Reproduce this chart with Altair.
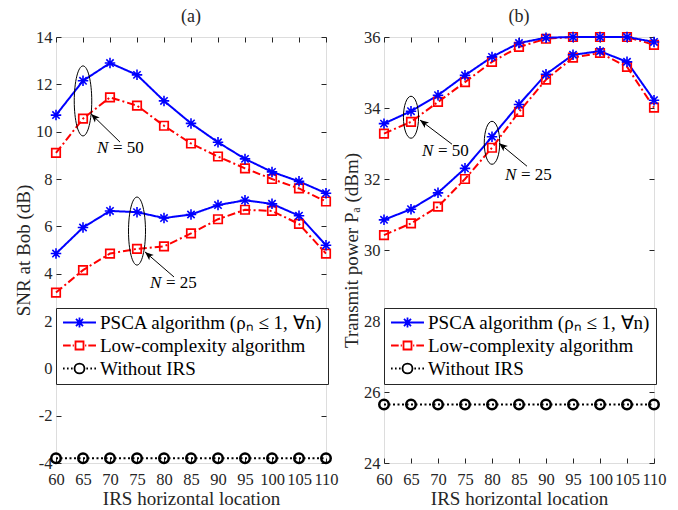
import altair as alt
import pandas as pd

# ---------------- data ----------------
x_vals = [60, 65, 70, 75, 80, 85, 90, 95, 100, 105, 110]

snr_psca_50 = [10.7, 12.15, 12.9, 12.4, 11.3, 10.35, 9.55, 8.85, 8.3, 7.9, 7.4]
snr_low_50 = [9.1, 10.55, 11.45, 11.1, 10.25, 9.5, 8.95, 8.45, 8.0, 7.6, 7.05]
snr_psca_25 = [4.85, 5.95, 6.65, 6.6, 6.35, 6.5, 6.9, 7.1, 6.95, 6.45, 5.2]
snr_low_25 = [3.2, 4.15, 4.85, 5.05, 5.15, 5.7, 6.3, 6.7, 6.65, 6.1, 4.85]
snr_no_irs = [-3.8, -3.8, -3.8, -3.8, -3.8, -3.8, -3.8, -3.8, -3.8, -3.8, -3.8]

pow_psca_50 = [33.56, 33.91, 34.36, 34.92, 35.44, 35.83, 35.98, 36.0, 36.0, 36.0, 35.86]
pow_low_50 = [33.28, 33.61, 34.17, 34.73, 35.3, 35.72, 35.95, 36.0, 36.0, 36.0, 35.78]
pow_psca_25 = [30.85, 31.15, 31.61, 32.3, 33.19, 34.1, 34.95, 35.5, 35.6, 35.3, 34.22]
pow_low_25 = [30.42, 30.75, 31.22, 32.0, 32.88, 33.89, 34.8, 35.42, 35.55, 35.16, 34.01]
pow_no_irs = [25.65, 25.65, 25.65, 25.65, 25.65, 25.65, 25.65, 25.65, 25.65, 25.65, 25.65]

snr_ticks = [-4, -2, 0, 2, 4, 6, 8, 10, 12, 14]
pow_ticks = [24, 26, 28, 30, 32, 34, 36]

S_PSCA = "PSCA algorithm (\u03c1\u2099 \u2264 1, \u2200n)"
S_LOW = "Low-complexity algorithm"
S_NO = "Without IRS"
series_names = [S_PSCA, S_LOW, S_NO]

# annotation values (data coordinates)
ann_a_ell = {"x": [65, 75], "y": [11.3, 5.8], "sz": [4900, 4624]}
ann_a_arrow = {"x": [71.85, 81.85], "y": [9.56, 3.86], "x2": [66.5, 76.48], "y2": [10.75, 4.92], "ang": [314, 311]}
ann_a_text = {"x": [67.59, 77.41], "y": [9.31, 3.61], "t": ["= 50", "= 25"]}

ann_b_ell = {"x": [65, 80], "y": [33.74, 33.02], "sz": [1764, 1849]}
ann_b_arrow = {"x": [72.59, 86.48], "y": [32.98, 32.36], "x2": [66.67, 81.3], "y2": [33.66, 33.01], "ang": [307, 309]}
ann_b_text = {"x": [67.04, 82.41], "y": [32.78, 32.10], "t": ["= 50", "= 25"]}

# ---------------- styles ----------------
FONT = "Liberation Serif"
AX = "#262626"
TICK_FS = 16.5
LAB_FS = 19
ASTER = "M-1,0L1,0M0,-1L0,1M-0.7,-0.7L0.7,0.7M-0.7,0.7L0.7,-0.7"
ARROW = "M0,0L-0.4,1L0,0.75L0.4,1Z"

styles = {
    S_PSCA: dict(color="#0000FF", dash=[1, 0], shape=ASTER, size=110, sw=1.6),
    S_LOW: dict(color="#FF0000", dash=[8, 3, 2, 3], shape="square", size=72, sw=1.7),
    S_NO: dict(color="#000000", dash=[2, 2.5], shape="circle", size=90, sw=2.5),
}

# legend symbols: line sample + marker, nominal box 16px (8px per unit)
leg_paths = [
    "M-2.06,0L2.06,0M-0.62,0L0.62,0M0,-0.62L0,0.62M-0.44,-0.44L0.44,0.44M-0.44,0.44L0.44,-0.44",
    "M-2.06,0L-1.1,0M-0.85,0L-0.7,0M0.7,0L0.85,0M1.1,0L2.06,0"
    "M-0.5,-0.5L0.5,-0.5L0.5,0.5L-0.5,0.5Z",
    "M-2.06,0L-1.86,0M-1.56,0L-1.36,0M-1.06,0L-0.86,0M0.86,0L1.06,0M1.36,0L1.56,0M1.86,0L2.06,0"
    "M-0.62,0A0.62,0.62 0 1,1 0.62,0A0.62,0.62 0 1,1 -0.62,0",
]
leg_colors = ["#0000FF", "#FF0000", "#000000"]


def make_df(psca50, low50, psca25, low25, noirs):
    rows = []
    for s, n, vals in [(S_PSCA, 50, psca50), (S_LOW, 50, low50), (S_PSCA, 25, psca25),
                       (S_LOW, 25, low25), (S_NO, 0, noirs)]:
        for xv, yv in zip(x_vals, vals):
            rows.append({"x": xv, "y": yv, "series": s, "N": n})
    return pd.DataFrame(rows)


def panel(df, ydom, yticks, ytitle, title, ell, arrows, texts, ell_ratio):
    xs = alt.Scale(domain=[60, 110], nice=False, zero=False)
    ys = alt.Scale(domain=ydom, nice=False, zero=False)
    xaxis = alt.Axis(
        values=x_vals, title="IRS horizontal location", offset=-5, tickSize=5, domain=False,
        grid=False, labelPadding=8, titlePadding=2, labelOverlap=False, labelFlush=False,
        labelFont=FONT, labelFontSize=TICK_FS, titleFont=FONT, titleFontSize=LAB_FS,
        titleFontWeight="normal", labelColor=AX, titleColor=AX, tickColor=AX)
    yaxis = alt.Axis(
        values=yticks, title=ytitle, offset=-5, tickSize=5, domain=False, grid=False,
        labelPadding=4, titlePadding=2, labelOverlap=False, labelFlush=False,
        labelExpr="'' + datum.value",
        labelFont=FONT, labelFontSize=TICK_FS, titleFont=FONT, titleFontSize=LAB_FS,
        titleFontWeight="normal", labelColor=AX, titleColor=AX, tickColor=AX)
    xe = alt.X("x:Q", scale=xs, axis=xaxis)
    ye = alt.Y("y:Q", scale=ys, axis=yaxis)

    layers = []
    for s in [S_NO, S_LOW, S_PSCA]:
        st = styles[s]
        d = df[df.series == s]
        base = alt.Chart(d).encode(x=xe, y=ye)
        layers.append(base.mark_line(color=st["color"], strokeDash=st["dash"], strokeWidth=2)
                      .encode(detail="N:N"))
    for s in [S_NO, S_LOW, S_PSCA]:
        st = styles[s]
        d = df[df.series == s]
        base = alt.Chart(d).encode(x=xe, y=ye)
        layers.append(base.mark_point(shape=st["shape"], color=st["color"], filled=False,
                                      size=st["size"], strokeWidth=st["sw"], opacity=1))

    leg = alt.Legend(orient="none", legendX=0, legendY=271, title=None, fillColor="white",
                     strokeColor=AX, padding=5, labelFont=FONT, labelFontSize=LAB_FS,
                     labelColor="black", symbolSize=256, symbolStrokeWidth=1.8, rowPadding=3,
                     labelOffset=11, symbolOffset=9, labelLimit=400)
    legend_layer = alt.Chart(df).transform_filter("false").mark_point(filled=False, opacity=1).encode(
        x=xe, y=ye,
        color=alt.Color("series:N", scale=alt.Scale(domain=series_names, range=leg_colors), legend=leg),
        shape=alt.Shape("series:N", scale=alt.Scale(domain=series_names, range=leg_paths), legend=leg),
    )
    layers.append(legend_layer)

    r = ell_ratio
    ell_path = f"M0,-1A{r},1 0 1,1 0,1A{r},1 0 1,1 0,-1"
    layers.append(alt.Chart(pd.DataFrame(ell)).mark_point(shape=ell_path, filled=False, color="black",
                                                          strokeWidth=1, opacity=1)
                  .encode(x=xe, y=ye, size=alt.Size("sz:Q", scale=None)))
    adf = pd.DataFrame(arrows)
    layers.append(alt.Chart(adf).mark_rule(color="black", strokeWidth=1)
                  .encode(x=xe, y=ye, x2="x2:Q", y2="y2:Q"))
    layers.append(alt.Chart(adf).mark_point(shape=ARROW, filled=True, color="black", size=300, opacity=1)
                  .encode(x=alt.X("x2:Q", scale=xs, axis=xaxis),
                          y=alt.Y("y2:Q", scale=ys, axis=yaxis),
                          angle=alt.Angle("ang:Q", scale=None)))
    tdf = pd.DataFrame(texts)
    layers.append(alt.Chart(tdf).mark_text(text="N", font=FONT, fontStyle="italic", fontSize=17,
                                           align="left", baseline="middle", color="black")
                  .encode(x=xe, y=ye))
    layers.append(alt.Chart(tdf).mark_text(font=FONT, fontSize=17, align="left", baseline="middle",
                                           color="black", dx=16)
                  .encode(x=xe, y=ye, text="t:N"))

    inner = alt.layer(*layers)

    frame = alt.Chart(df).mark_point(opacity=0).encode(
        x=alt.X("x:Q", scale=xs, axis=alt.Axis(orient="top", values=x_vals, labels=False, title=None,
                                               tickSize=5, offset=-5, domain=False, grid=False,
                                               tickColor=AX)),
        y=alt.Y("y:Q", scale=ys, axis=alt.Axis(orient="right", values=yticks, labels=False, title=None,
                                               tickSize=5, offset=-5, domain=False, grid=False,
                                               tickColor=AX)),
    )
    return alt.layer(inner, frame).resolve_axis(x="independent", y="independent").properties(
        width=270, height=426,
        title=alt.TitleParams(title, font=FONT, fontSize=18, fontWeight="normal", color=AX, offset=3))


df_a = make_df(snr_psca_50, snr_low_50, snr_psca_25, snr_low_25, snr_no_irs)
df_b = make_df(pow_psca_50, pow_low_50, pow_psca_25, pow_low_25, pow_no_irs)

pa = panel(df_a, [-4, 14], snr_ticks, "SNR at Bob (dB)", "(a)", ann_a_ell, ann_a_arrow, ann_a_text, 0.25)
pb = panel(df_b, [24, 36], pow_ticks, "Transmit power P\u2090 (dBm)", "(b)", ann_b_ell, ann_b_arrow,
           ann_b_text, 0.36)

chart = alt.hconcat(pa, pb, spacing=58, bounds="flush").resolve_scale(
    color="independent", shape="independent"
).properties(
    padding={"left": 14, "top": 7, "right": 5, "bottom": 0}
).configure_view(stroke=AX, strokeWidth=1).configure(background="white")

chart.save("out.html", embed_options={"renderer": "svg", "actions": False})
